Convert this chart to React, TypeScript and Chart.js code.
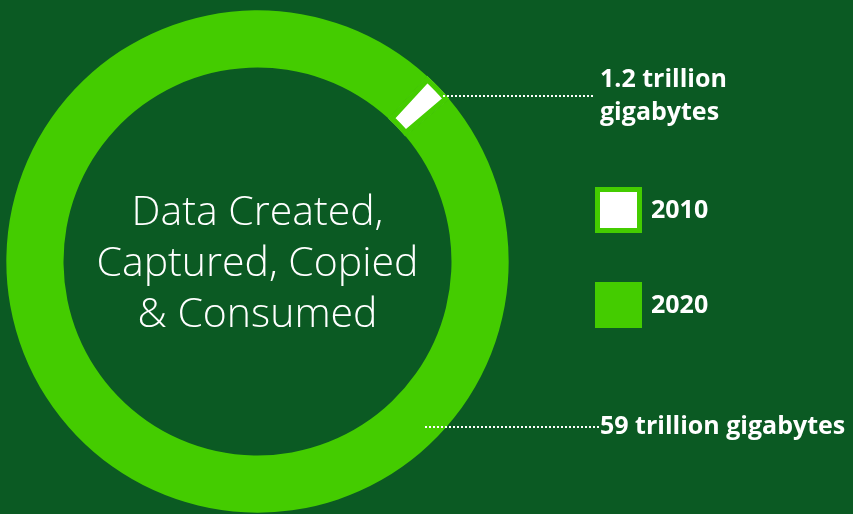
import React, { useEffect, useRef } from "react";
import { Chart, registerables } from "chart.js";

Chart.register(...registerables);

const categories = ["2010", "2020"];
const values = [1.2, 59];
const calloutLines = [["1.2 trillion", "gigabytes"], ["59 trillion gigabytes"]];
const centerLines = ["Data Created,", "Captured, Copied", "& Consumed"];

const GREEN = "#44cc00";
const BG = "#0b5a23";
const BOLD = "bold 25px 'Open Sans', 'Noto Sans', sans-serif";
const LIGHT = "300 41px 'Open Sans', 'Noto Sans', sans-serif";

const overlayPlugin = {
  id: "overlay",
  beforeDraw(chart: any) {
    const { ctx, width, height } = chart;
    ctx.save();
    ctx.fillStyle = BG;
    ctx.fillRect(0, 0, width, height);
    ctx.restore();
  },
  afterDraw(chart: any) {
    const { ctx } = chart;
    const meta = chart.getDatasetMeta(0);
    const a0 = meta.data[0];
    const cx = a0.x;
    const cy = a0.y;
    const R = a0.outerRadius;
    ctx.save();
    // centre text
    ctx.fillStyle = "#ffffff";
    ctx.font = LIGHT;
    ctx.textAlign = "center";
    ctx.textBaseline = "alphabetic";
    centerLines.forEach((t, i) => ctx.fillText(t, cx, cy - 37 + i * 51));

    // leader lines
    const drawDots = (x1: number, y: number, x2: number) => {
      ctx.fillStyle = "#ffffff";
      for (let x = x1; x <= x2; x += 4) ctx.fillRect(Math.round(x), Math.round(y) - 1, 2, 2);
    };
    const y1 = 96;
    const x1 = cx + Math.sqrt(Math.max(R * R - (y1 - cy) * (y1 - cy), 0)) - 4;
    drawDots(x1, y1, 592);
    drawDots(425, 427, 597);

    // callout text
    ctx.font = BOLD;
    ctx.textAlign = "left";
    ctx.textBaseline = "middle";
    ctx.fillText(calloutLines[0][0], 600, 80);
    ctx.fillText(calloutLines[0][1], 600, 113);
    ctx.fillText(calloutLines[1][0], 600, 427);

    // legend
    const boxes = [187, 282];
    categories.forEach((c, i) => {
      const y = boxes[i];
      ctx.fillStyle = GREEN;
      ctx.fillRect(595, y, 47, 46);
      if (i === 0) {
        ctx.fillStyle = "#ffffff";
        ctx.fillRect(600, y + 5, 37, 36);
      }
      ctx.fillStyle = "#ffffff";
      ctx.font = BOLD;
      ctx.fillText(c, 651, y + 24);
    });
    ctx.restore();
  },
};

export default function App() {
  const ref = useRef<HTMLCanvasElement>(null);
  useEffect(() => {
    document.body.style.margin = "0";
    document.body.style.background = BG;
    const chart = new Chart(ref.current!, {
      type: "doughnut",
      data: {
        labels: categories,
        datasets: [
          {
            data: values,
            backgroundColor: ["#ffffff", GREEN],
            borderColor: [GREEN, GREEN],
            borderWidth: [5, 0],
            borderAlign: "inner",
          } as any,
        ],
      },
      options: {
        animation: false,
        responsive: false,
        cutout: "77%",
        rotation: 42.5,
        layout: { padding: { left: 6, right: 853 - 6 - 503, top: 10, bottom: 1 } },
        plugins: { legend: { display: false }, tooltip: { enabled: false } },
      },
      plugins: [overlayPlugin],
    });
    return () => chart.destroy();
  }, []);
  return <canvas ref={ref} width={853} height={514} style={{ display: "block" }} />;
}
